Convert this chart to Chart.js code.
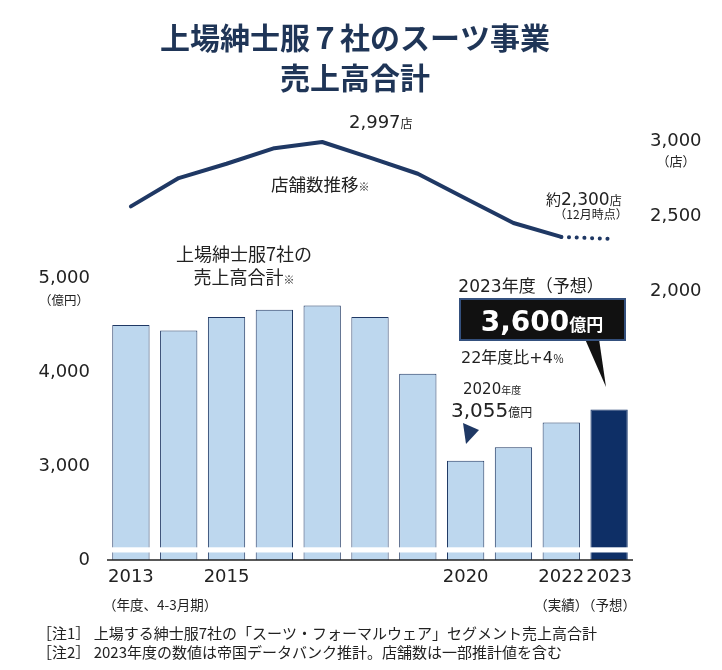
<!DOCTYPE html>
<html><head><meta charset="utf-8">
<script src="https://cdn.jsdelivr.net/npm/chart.js@4/dist/chart.umd.min.js"></script>
<style>html,body{margin:0;padding:0;background:#fff;}canvas{display:block;}</style>
</head><body>
<canvas id="c" width="722" height="670"></canvas>
<script>
const years = ['2013','2014','2015','2016','2017','2018','2019','2020','2021','2022','2023'];
const shownYearLabels = ['2013','2015','2020','2022','2023'];
const salesValues = [4500, 4440, 4585, 4660, 4705, 4585, 3980, 3055, 3200, 3462, 3600]; // 億円
const storeValues = [2567, 2756, 2852, 2956, 2997, 2893, 2785, 2620, 2456, 2363, null]; // 店
const storeForecast = [null, null, null, null, null, null, null, null, null, 2363, 2350];
const salesTicks = [2000, 3000, 4000, 5000]; // 2000 position is shown as "0" (broken axis)
const storeTicks = [2000, 2500, 3000];

const NAVY = '#1f3864';
const JP = '"DejaVu Sans", "Noto Sans CJK JP", sans-serif';
const JPonly = '"Noto Sans CJK JP", sans-serif';
const TXT = '#222222';

function runs(ctx, x, y, parts, align) {
  let total = 0;
  parts.forEach(p => { ctx.font = (p.bold ? 'bold ' : '') + p.size + 'px ' + (p.fam || JP); p.w = ctx.measureText(p.t).width; total += p.w; });
  let cx = align === 'center' ? x - total / 2 : (align === 'right' ? x - total : x);
  ctx.textBaseline = 'alphabetic'; ctx.textAlign = 'left';
  parts.forEach(p => { ctx.font = (p.bold ? 'bold ' : '') + p.size + 'px ' + (p.fam || JP); ctx.fillStyle = p.color || TXT; ctx.fillText(p.t, cx, y); cx += p.w; });
}

const decor = {
  id: 'decor',
  afterDatasetsDraw(chart) {
    const ctx = chart.ctx, a = chart.chartArea, ys = chart.scales.y;
    ctx.save();
    const yb1 = ys.getPixelForValue(2135), yb2 = ys.getPixelForValue(2080);
    ctx.fillStyle = '#ffffff';
    ctx.fillRect(a.left, yb1, a.right - a.left, yb2 - yb1);
    ctx.strokeStyle = '#222'; ctx.lineWidth = 1.5;
    ctx.beginPath(); ctx.moveTo(a.left, a.bottom); ctx.lineTo(a.right, a.bottom); ctx.stroke();
    ctx.restore();
  },
  afterDraw(chart) {
    const ctx = chart.ctx;
    ctx.save();
    ctx.fillStyle = '#1f3557'; ctx.textAlign = 'center'; ctx.textBaseline = 'middle';
    ctx.font = 'bold 30px "Noto Sans CJK JP", sans-serif';
    ctx.fillText('上場紳士服７社のスーツ事業', 355, 38);
    ctx.fillText('売上高合計', 355, 78);
    runs(ctx, 349, 128, [{t:'2,997', size:18}, {t:'店', size:12, fam:JPonly}], 'left');
    runs(ctx, 271, 191, [{t:'店舗数推移', size:17.5, fam:JPonly}, {t:'※', size:11, fam:JPonly}], 'left');
    runs(ctx, 546, 205, [{t:'約', size:15, fam:JPonly}, {t:'2,300', size:17}, {t:'店', size:12, fam:JPonly}], 'left');
    runs(ctx, 591, 219, [{t:'（12月時点）', size:12, fam:JPonly}], 'center');
    runs(ctx, 244, 261, [{t:'上場紳士服7社の', size:18, fam:JPonly}], 'center');
    runs(ctx, 244, 284, [{t:'売上高合計', size:18, fam:JPonly}, {t:'※', size:11, fam:JPonly}], 'center');
    runs(ctx, 531, 292, [{t:'2023年度（予想）', size:17, fam:JP}], 'center');
    ctx.fillStyle = '#111111';
    ctx.beginPath(); ctx.moveTo(585, 339); ctx.lineTo(599, 339); ctx.lineTo(606, 387); ctx.closePath(); ctx.fill();
    ctx.fillRect(460, 299, 165, 41);
    ctx.strokeStyle = '#34507d'; ctx.lineWidth = 2; ctx.strokeRect(460, 299, 165, 41);
    runs(ctx, 542, 331, [{t:'3,600', size:28, bold:true, color:'#ffffff'}, {t:'億円', size:17, bold:true, color:'#ffffff', fam:JPonly}], 'center');
    runs(ctx, 461, 363, [{t:'22年度比+4', size:16}, {t:'％', size:11, fam:JPonly}], 'left');
    runs(ctx, 463, 394, [{t:'2020', size:15}, {t:'年度', size:10, fam:JPonly}], 'left');
    runs(ctx, 451, 417, [{t:'3,055', size:20}, {t:'億円', size:12, fam:JPonly}], 'left');
    ctx.fillStyle = NAVY;
    ctx.beginPath(); ctx.moveTo(463, 423); ctx.lineTo(479, 430); ctx.lineTo(466, 444); ctx.closePath(); ctx.fill();
    runs(ctx, 64, 305, [{t:'（億円）', size:12.5, fam:JPonly}], 'center');
    runs(ctx, 676, 166, [{t:'（店）', size:13, fam:JPonly}], 'center');
    runs(ctx, 103, 610, [{t:'（年度、4-3月期）', size:13.5, fam:JPonly}], 'left');
    const xs = chart.scales.x;
    runs(ctx, xs.getPixelForValue(9), 610, [{t:'（実績）', size:13.5, fam:JPonly}], 'center');
    runs(ctx, xs.getPixelForValue(10), 610, [{t:'（予想）', size:13.5, fam:JPonly}], 'center');
    runs(ctx, 37, 639, [{t:'［注1］ 上場する紳士服7社の「スーツ・フォーマルウェア」セグメント売上高合計', size:15, fam:JPonly}], 'left');
    runs(ctx, 37, 658, [{t:'［注2］ 2023年度の数値は帝国データバンク推計。店舗数は一部推計値を含む', size:15, fam:JPonly}], 'left');
    ctx.restore();
  }
};

new Chart(document.getElementById('c'), {
  type: 'bar',
  data: {
    labels: years,
    datasets: [
      {
        type: 'line', data: storeValues, yAxisID: 'y2', borderColor: NAVY, borderWidth: 4,
        pointRadius: 0, tension: 0, fill: false, borderJoinStyle: 'round', borderCapStyle: 'round', order: 0
      },
      {
        type: 'line', data: storeForecast, yAxisID: 'y2', borderColor: NAVY, borderWidth: 4,
        pointRadius: 0, tension: 0, fill: false, borderDash: [0.1, 7.6], borderCapStyle: 'round', order: 0
      },
      {
        type: 'bar', data: salesValues, yAxisID: 'y',
        backgroundColor: salesValues.map((v, i) => i === salesValues.length - 1 ? '#0e2f66' : '#bdd7ee'),
        borderColor: salesValues.map((v, i) => i === salesValues.length - 1 ? '#0e2f66' : '#1f3864'),
        borderWidth: 1, categoryPercentage: 1, barPercentage: 0.78, order: 1
      }
    ]
  },
  options: {
    responsive: false, animation: false,
    layout: { padding: { top: 110, left: 0, right: 0, bottom: 80 } },
    plugins: { legend: { display: false }, tooltip: { enabled: false } },
    scales: {
      x: {
        grid: { display: false, drawTicks: false }, border: { display: false },
        ticks: {
          padding: 7, color: TXT, font: { family: JP, size: 18 }, maxRotation: 0, autoSkip: false,
          callback: function (v) { const l = years[v]; return shownYearLabels.includes(l) ? l : ''; }
        },
        afterFit(s) { s.height = 30; }
      },
      y: {
        position: 'left', min: 2000, max: 6785,
        grid: { display: false, drawTicks: false }, border: { display: false },
        afterBuildTicks(s) { s.ticks = salesTicks.map(v => ({ value: v })); },
        ticks: {
          padding: 17, color: TXT, font: { family: JP, size: 18 },
          callback: v => v === 2000 ? '0' : v.toLocaleString('en-US')
        },
        afterFit(s) { s.width = 107; }
      },
      y2: {
        position: 'right', min: 204, max: 3211,
        grid: { display: false, drawTicks: false }, border: { display: false },
        afterBuildTicks(s) { s.ticks = storeTicks.map(v => ({ value: v })); },
        ticks: { padding: 17, color: TXT, font: { family: JP, size: 18 }, callback: v => v.toLocaleString('en-US') },
        afterFit(s) { s.width = 89; }
      }
    }
  },
  plugins: [decor]
});
</script>
</body></html>
